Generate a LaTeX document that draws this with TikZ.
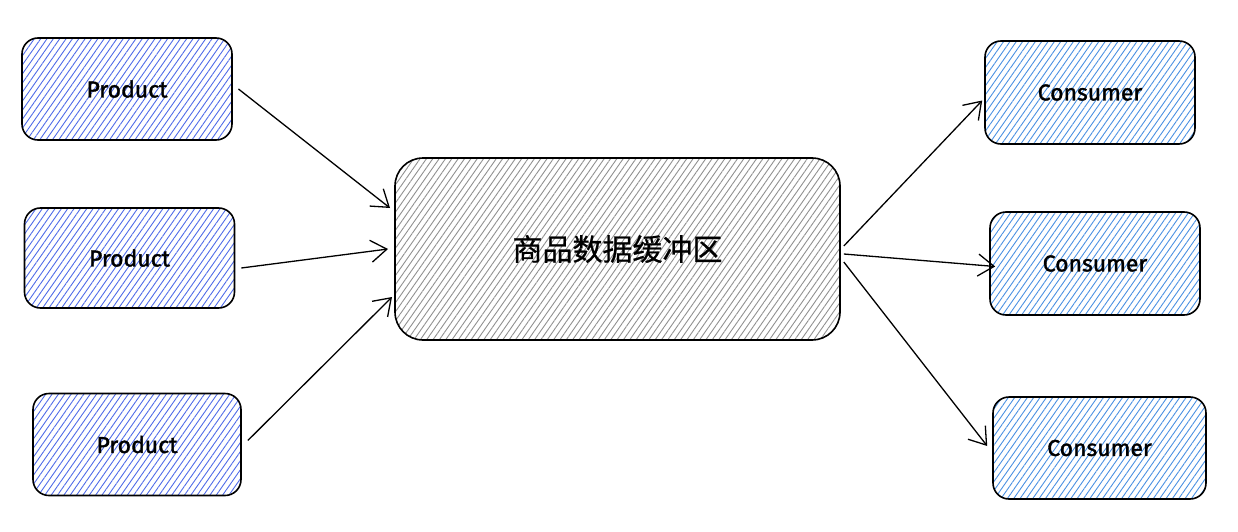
\documentclass[tikz,border=0pt]{standalone}
\usepackage{fontspec}
\setmainfont{Fira Sans}
\newfontfamily\cjk{Noto Sans CJK SC}
\usetikzlibrary{patterns.meta,arrows.meta}
\definecolor{prodblue}{HTML}{4F6BE8}
\definecolor{consblue}{HTML}{4A90E2}
\definecolor{hatchgray}{HTML}{909090}
\tikzset{
  hbox/.style={draw=black, line width=1.6pt, rounded corners=16pt, minimum width=#1},
  hatch/.style={pattern={Lines[angle=55,distance=5.2pt,line width=0.9pt]}, pattern color=#1},
  prodbox/.style={hbox=210pt, minimum height=102pt, hatch=prodblue, font=\fontsize{23}{26}\selectfont\addfontfeatures{FakeBold=1.5}},
  consbox/.style={hbox=210pt, minimum height=102pt, hatch=consblue, font=\fontsize{23}{26}\selectfont\addfontfeatures{FakeBold=1.5}},
  bufbox/.style={hbox=445pt, minimum height=182pt, rounded corners=28pt, hatch=hatchgray, font=\cjk\fontsize{30}{34}\selectfont\addfontfeatures{FakeBold=0.8}},
  conn/.style={draw=black, line width=1.3pt, -{Straight Barb[length=16pt,width=22pt,line width=1.3pt]}},
}
\begin{document}
\begin{tikzpicture}[x=1pt,y=-1pt]
\useasboundingbox (0,0) rectangle (1238,532);
\node[prodbox] (p1) at (127,89) {Product};
\node[prodbox, minimum height=100pt] (p2) at (129.5,258) {Product};
\node[prodbox, minimum width=208pt] (p3) at (137,444.5) {Product};
\node[bufbox] (buf) at (617.5,249) {商品数据缓冲区};
\node[consbox, minimum height=103pt] (c1) at (1090,92.5) {Consumer};
\node[consbox, minimum height=103pt] (c2) at (1095,263.5) {Consumer};
\node[consbox, minimum width=213pt] (c3) at (1099.5,448) {Consumer};
\coordinate (b1) at (390,208);
\coordinate (b2) at (388,249);
\coordinate (b3) at (392,297);
\draw[conn] ([xshift=6pt]p1.east) -- (b1);
\draw[conn] ([xshift=6pt,yshift=-10pt]p2.east) -- (b2);
\draw[conn] ([xshift=6pt,yshift=4pt]p3.east) -- (b3);
\draw[conn] ([xshift=3pt,yshift=3pt]buf.east) -- ([xshift=-2pt,yshift=-8pt]c1.west);
\draw[conn] ([xshift=3pt,yshift=-5pt]buf.east) -- ([xshift=6pt,yshift=-3pt]c2.west);
\draw[conn] ([xshift=3pt,yshift=-13pt]buf.east) -- ([xshift=-5pt,yshift=2pt]c3.west);
\end{tikzpicture}
\end{document}
